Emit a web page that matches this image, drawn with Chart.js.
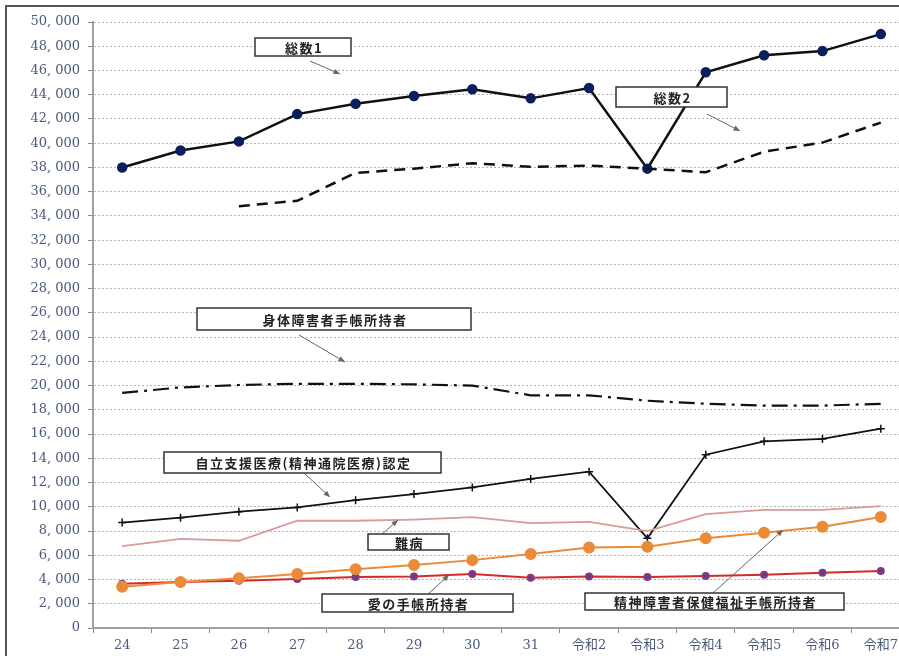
<!DOCTYPE html>
<html>
<head>
<meta charset="utf-8">
<script src="https://cdn.jsdelivr.net/npm/chart.js@4.4.1/dist/chart.umd.min.js"></script>
<style>
  html, body { margin: 0; padding: 0; overflow: hidden; background: #fff; }
  #wrap { position: absolute; left: 0; top: 0; width: 917px; height: 668px; }
</style>
</head>
<body>
<div id="wrap"><canvas id="c" width="917" height="668"></canvas></div>
<script>
const years = ['24', '25', '26', '27', '28', '29', '30', '31', '令和2', '令和3', '令和4', '令和5', '令和6', '令和7'];

const total1   = [38000, 39400, 40150, 42400, 43250, 43900, 44450, 43700, 44550, 37900, 45850, 47250, 47600, 49000];
const total2   = [null, null, 34800, 35250, 37550, 37900, 38350, 38050, 38150, 37900, 37600, 39300, 40050, 41700];
const shintai  = [19400, 19850, 20050, 20150, 20150, 20100, 20000, 19200, 19200, 18750, 18500, 18350, 18350, 18500];
const jiritsu  = [8700, 9100, 9600, 9950, 10550, 11050, 11600, 12300, 12900, 7400, 14300, 15400, 15600, 16450];
const nanbyo   = [6750, 7350, 7200, 8850, 8850, 8950, 9150, 8650, 8750, 8000, 9400, 9750, 9750, 10050];
const seishin  = [3400, 3800, 4100, 4450, 4850, 5200, 5600, 6100, 6650, 6700, 7400, 7850, 8350, 9150];
const ainote   = [3650, 3800, 3900, 4050, 4200, 4250, 4450, 4150, 4250, 4200, 4300, 4400, 4550, 4700];
const other    = [0, 0, 0, 0, null, null, null, null, null, null, null, null, null, null];

// callout boxes drawn over the chart: box [x1, y1, x2, y2], arrow [from x, from y, to x, to y]
const callouts = [
  { text: '総数1', box: [255, 38, 351, 56], arrow: [310, 61, 340, 74] },
  { text: '総数2', box: [616, 87, 727, 107], arrow: [707, 114, 740, 131] },
  { text: '身体障害者手帳所持者', box: [197, 308, 471, 330], arrow: [299, 335, 345, 362] },
  { text: '自立支援医療(精神通院医療)認定', box: [164, 452, 441, 473], arrow: [305, 474, 330, 497] },
  { text: '難病', box: [368, 534, 449, 550], arrow: [380, 536, 398, 520] },
  { text: '愛の手帳所持者', box: [322, 594, 513, 612], arrow: [427, 595, 449, 575] },
  { text: '精神障害者保健福祉手帳所持者', box: [585, 593, 844, 610], arrow: [713, 593, 783, 530] }
];

const tickFont = { family: "'DejaVu Serif', 'Noto Sans CJK JP', serif", size: 13 };

const calloutPlugin = {
  id: 'callouts',
  afterDraw(chart) {
    const ctx = chart.ctx;
    ctx.save();
    // outer frame
    ctx.strokeStyle = '#555';
    ctx.lineWidth = 2;
    ctx.strokeRect(6, 6, chart.width + 20, chart.height + 20);

    callouts.forEach(c => {
      const [ax, ay, bx, by] = c.arrow;
      ctx.strokeStyle = '#666';
      ctx.fillStyle = '#666';
      ctx.lineWidth = 1;
      ctx.beginPath();
      ctx.moveTo(ax, ay);
      ctx.lineTo(bx, by);
      ctx.stroke();
      const ang = Math.atan2(by - ay, bx - ax);
      ctx.beginPath();
      ctx.moveTo(bx, by);
      ctx.lineTo(bx - 7 * Math.cos(ang - 0.4), by - 7 * Math.sin(ang - 0.4));
      ctx.lineTo(bx - 7 * Math.cos(ang + 0.4), by - 7 * Math.sin(ang + 0.4));
      ctx.closePath();
      ctx.fill();

      const [x1, y1, x2, y2] = c.box;
      ctx.fillStyle = '#fff';
      ctx.fillRect(x1, y1, x2 - x1, y2 - y1);
      ctx.strokeStyle = '#333';
      ctx.lineWidth = 1.5;
      ctx.strokeRect(x1, y1, x2 - x1, y2 - y1);
      ctx.fillStyle = '#222';
      ctx.font = "bold 13px 'Noto Sans CJK JP'";
      ctx.letterSpacing = '1.5px';
      ctx.textAlign = 'center';
      ctx.textBaseline = 'middle';
      ctx.fillText(c.text, (x1 + x2) / 2 + 1, (y1 + y2) / 2 + 1);
    });
    ctx.restore();
  }
};

new Chart(document.getElementById('c'), {
  type: 'line',
  data: {
    labels: years,
    datasets: [
      { label: 'other', data: other, borderColor: '#9bbb59', borderWidth: 2, pointRadius: 0 },
      { label: '難病', data: nanbyo, borderColor: '#d99a9a', borderWidth: 1.8, pointRadius: 0 },
      { label: '精神障害者保健福祉手帳所持者', data: seishin, borderColor: '#e98b38', borderWidth: 2,
        pointRadius: 5, pointBackgroundColor: '#e98b38', pointBorderColor: '#e98b38' },
      { label: '愛の手帳所持者', data: ainote, borderColor: '#d42a2a', borderWidth: 2,
        pointRadius: 3, pointBackgroundColor: '#5a3f95', pointBorderColor: '#8a3a7a' },
      { label: '自立支援医療(精神通院医療)認定', data: jiritsu, borderColor: '#111', borderWidth: 1.8,
        pointStyle: 'cross', pointRadius: 4, pointBorderColor: '#111', pointBorderWidth: 1.5 },
      { label: '身体障害者手帳所持者', data: shintai, borderColor: '#111', borderWidth: 2.2,
        borderDash: [16, 6, 3, 6], pointRadius: 0 },
      { label: '総数2', data: total2, borderColor: '#111', borderWidth: 2.5,
        borderDash: [11, 7], pointRadius: 0 },
      { label: '総数1', data: total1, borderColor: '#111', borderWidth: 2.5,
        pointRadius: 4, pointBackgroundColor: '#0b1f5c', pointBorderColor: '#0b1f5c' }
    ]
  },
  options: {
    responsive: false,
    devicePixelRatio: 1,
    animation: false,
    layout: { padding: { top: 22, left: 0, right: 0, bottom: 0 } },
    plugins: { legend: { display: false }, tooltip: { enabled: false } },
    elements: { line: { tension: 0 } },
    scales: {
      x: {
        offset: true,
        afterFit: s => { s.height = 40; },
        grid: { drawOnChartArea: false, drawTicks: true, tickLength: 5, tickColor: '#888', offset: true },
        border: { color: '#a0a0a0', width: 2 },
        ticks: { color: '#4a5a78', font: tickFont, padding: 5, maxRotation: 0, autoSkip: false }
      },
      y: {
        min: 0,
        max: 50000,
        afterFit: s => { s.width = 93; },
        grid: { color: '#b4b4b4', lineWidth: 1, tickLength: 5, tickColor: '#888', tickBorderDash: [] },
        border: { color: '#a0a0a0', width: 2, dash: [2, 2] },
        ticks: {
          stepSize: 2000,
          color: '#4a5a78',
          font: tickFont,
          padding: 8,
          callback: v => v === 0 ? '0' : Math.floor(v / 1000) + ', ' + String(v % 1000).padStart(3, '0')
        }
      }
    }
  },
  plugins: [calloutPlugin]
});
</script>
</body>
</html>
